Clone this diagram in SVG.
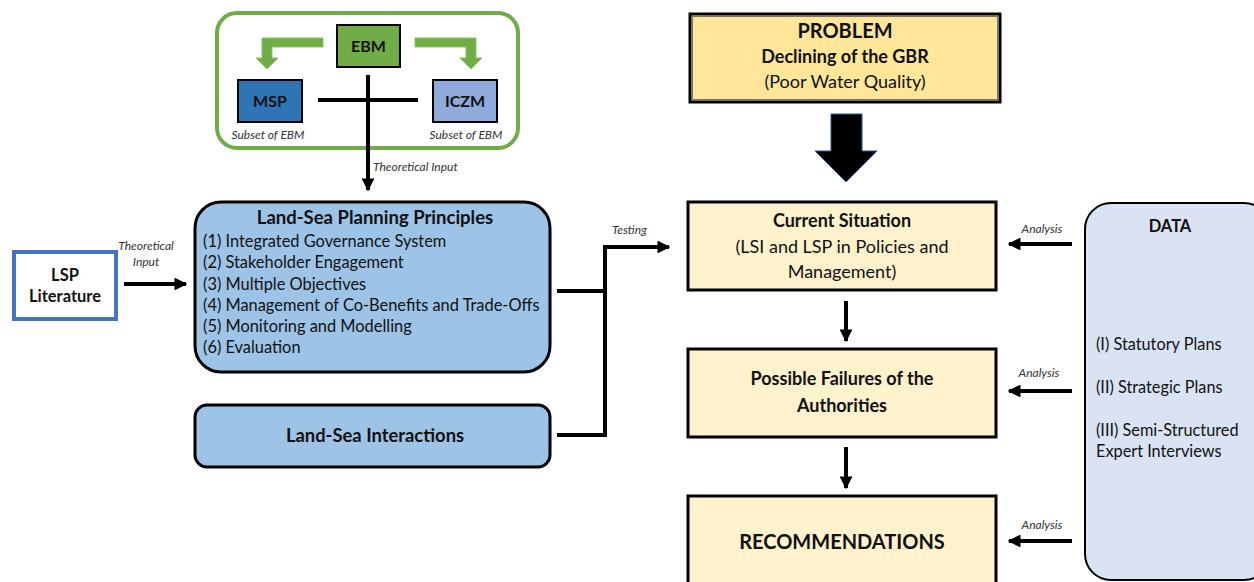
<svg xmlns="http://www.w3.org/2000/svg" width="1254" height="582" viewBox="0 0 1254 582">
<defs>
<style>
text{font-family:Lato,"Open Sans","Liberation Sans",sans-serif;fill:#111}
.b{font-weight:bold}
.it{font-style:italic;font-size:12px;fill:#333}
.c{text-anchor:middle}
.conn{stroke:#000;stroke-width:4;fill:none}
.yel{fill:#fff2cc;stroke:#000;stroke-width:3}
.blue{fill:#9dc3e6;stroke:#000;stroke-width:3}
</style>
<marker id="ah" viewBox="0 0 10 10" refX="9" refY="5" markerWidth="3.2" markerHeight="3.2" orient="auto" markerUnits="strokeWidth">
<path d="M0,0 L10,5 L0,10 z" fill="#000"/>
</marker>
</defs>
<rect width="1254" height="582" fill="#fff"/>

<g id="ebm-group">
<rect x="217" y="13" width="301" height="135" rx="20" fill="#fff" stroke="#70ad47" stroke-width="4"/>
<path d="M323,38 L262,38 L262,58 L256,58 L267,69 L278,58 L272,58 L272,47 L323,47 z" fill="#70ad47" stroke="#8cc168" stroke-width="1"/>
<path d="M415,38 L476,38 L476,58 L482,58 L471,69 L460,58 L466,58 L466,47 L415,47 z" fill="#70ad47" stroke="#8cc168" stroke-width="1"/>
</g>
<g id="ebm">
<rect x="337" y="25" width="63" height="42" fill="#70ad47" stroke="#000" stroke-width="2"/>
<text class="b c" x="368.5" y="52" font-size="16">EBM</text>
</g>
<g id="msp">
<rect x="238" y="80" width="64" height="42" fill="#2e75b6" stroke="#000" stroke-width="2"/>
<text class="b c" x="270" y="107" font-size="16">MSP</text>
<text class="it c" x="268" y="139">Subset of EBM</text>
</g>
<g id="iczm">
<rect x="433" y="80" width="64" height="42" fill="#8faadc" stroke="#000" stroke-width="2"/>
<text class="b c" x="465" y="107" font-size="16">ICZM</text>
<text class="it c" x="466" y="139">Subset of EBM</text>
</g>

<g id="lsp">
<rect x="14" y="252" width="102" height="67" fill="#fff" stroke="#4472c4" stroke-width="4"/>
<text class="b c" x="65" y="281" font-size="16.5">LSP</text>
<text class="b c" x="65" y="302" font-size="16.5">Literature</text>
</g>

<g id="principles">
<rect x="195" y="202" width="355" height="170" rx="26" class="blue"/>
<text class="b c" x="375" y="224" font-size="18.5">Land-Sea Planning Principles</text>
<text x="203" y="247" font-size="16.4">(1) Integrated Governance System</text>
<text x="203" y="268" font-size="16.4">(2) Stakeholder Engagement</text>
<text x="203" y="290" font-size="16.4">(3) Multiple Objectives</text>
<text x="203" y="311" font-size="16.4">(4) Management of Co-Benefits and Trade-Offs</text>
<text x="203" y="332" font-size="16.4">(5) Monitoring and Modelling</text>
<text x="203" y="353" font-size="16.4">(6) Evaluation</text>
</g>

<g id="lsi">
<rect x="195" y="405" width="355" height="62" rx="12" class="blue"/>
<text class="b c" x="375" y="442" font-size="18.4">Land-Sea Interactions</text>
</g>

<g id="problem">
<rect x="690" y="14" width="310" height="88" fill="#ffe699" stroke="#000" stroke-width="3"/>
<rect x="692.5" y="16.5" width="305" height="83" fill="none" stroke="#777" stroke-width="1"/>
<text class="b c" x="845" y="38" font-size="20">PROBLEM</text>
<text class="b c" x="845" y="63" font-size="18">Declining of the GBR</text>
<text class="c" x="845" y="88" font-size="18">(Poor Water Quality)</text>
</g>

<g id="current">
<rect x="688" y="202" width="308" height="88" class="yel"/>
<text class="b c" x="842" y="227" font-size="18">Current Situation</text>
<text class="c" x="842" y="253" font-size="18">(LSI and LSP in Policies and</text>
<text class="c" x="842" y="278" font-size="18">Management)</text>
</g>

<g id="failures">
<rect x="688" y="349" width="308" height="88" class="yel"/>
<text class="b c" x="842" y="385" font-size="18">Possible Failures of the</text>
<text class="b c" x="842" y="412" font-size="18">Authorities</text>
</g>

<g id="recommendations">
<rect x="688" y="496" width="308" height="100" class="yel"/>
<text class="b c" x="842" y="549" font-size="20">RECOMMENDATIONS</text>
</g>

<g id="data">
<rect x="1085" y="203" width="185" height="377" rx="26" fill="#dae3f3" stroke="#000" stroke-width="2"/>
<text class="b c" x="1170" y="232" font-size="16.5">DATA</text>
<text x="1096" y="350" font-size="16.3">(I) Statutory Plans</text>
<text x="1096" y="393" font-size="16.3">(II) Strategic Plans</text>
<text x="1096" y="436" font-size="16.3">(III) Semi-Structured</text>
<text x="1096" y="457" font-size="16.3">Expert Interviews</text>
</g>

<g id="connectors">
<line x1="318" y1="100" x2="418" y2="100" class="conn"/>
<line x1="368" y1="75" x2="368" y2="190" class="conn" marker-end="url(#ah)"/>
<text class="it" x="373" y="171">Theoretical Input</text>
<line x1="124" y1="284" x2="186" y2="284" class="conn" marker-end="url(#ah)"/>
<text class="it c" x="146" y="250">Theoretical</text>
<text class="it c" x="146" y="266">Input</text>
<polyline points="557,291 605,291" class="conn"/>
<polyline points="557,435 605,435 605,247 669,247" class="conn" marker-end="url(#ah)"/>
<text class="it" x="612" y="234">Testing</text>
<path d="M831,114 L862,114 L862,151 L877,151 L846,182 L815,151 L831,151 z" fill="#000" stroke="#2f5597" stroke-width="1"/>
<line x1="846" y1="301" x2="846" y2="341" class="conn" marker-end="url(#ah)"/>
<line x1="846" y1="447" x2="846" y2="488" class="conn" marker-end="url(#ah)"/>
<line x1="1072" y1="244" x2="1009" y2="244" class="conn" marker-end="url(#ah)"/>
<line x1="1072" y1="391" x2="1009" y2="391" class="conn" marker-end="url(#ah)"/>
<line x1="1072" y1="541" x2="1009" y2="541" class="conn" marker-end="url(#ah)"/>
<text class="it c" x="1042" y="233">Analysis</text>
<text class="it c" x="1039" y="377">Analysis</text>
<text class="it c" x="1042" y="529">Analysis</text>
</g>
</svg>
